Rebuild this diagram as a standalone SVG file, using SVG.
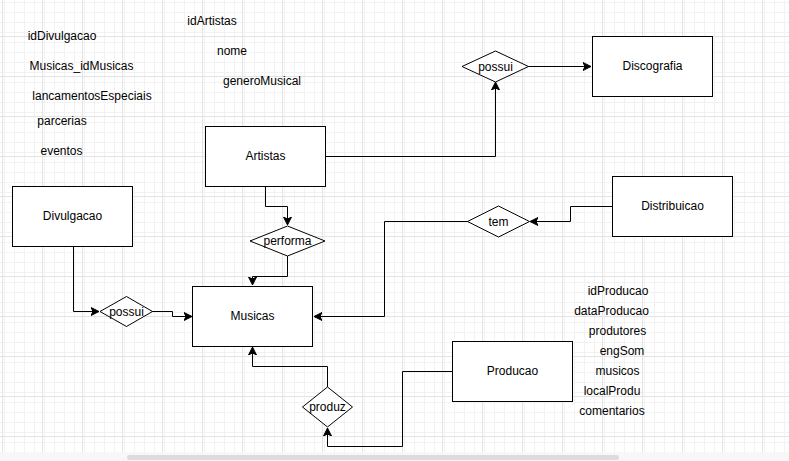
<svg xmlns="http://www.w3.org/2000/svg" width="789" height="461" viewBox="0 0 789 461">
<style>
.node{fill:#ffffff;stroke:#000000;stroke-width:1}
.lbl{font-family:"Liberation Sans",Arial,sans-serif;font-size:12px;fill:#000000;text-anchor:middle}
.edge{fill:none;stroke:#000000;stroke-width:1}
</style>
<defs>
<pattern id="minor" x="2" y="-4" width="10" height="10" patternUnits="userSpaceOnUse">
<path d="M0.5,0 V10 M0,0.5 H10" fill="none" stroke="#f2f2f2" stroke-width="1"/>
</pattern>
<pattern id="major" x="2" y="-4" width="40" height="40" patternUnits="userSpaceOnUse">
<rect width="40" height="40" fill="url(#minor)"/>
<path d="M0.5,0 V40 M0,0.5 H40" fill="none" stroke="#e3e3e3" stroke-width="1"/>
</pattern>
<marker id="arr" markerUnits="userSpaceOnUse" markerWidth="10" markerHeight="10" refX="8" refY="4" orient="auto" viewBox="0 0 10 8">
<path d="M0,0 L8,4 L0,8 L2,4 Z" fill="#000000" stroke="#000000" stroke-width="1"/>
</marker>
</defs>
<rect x="0" y="0" width="789" height="461" fill="#ffffff"/>
<rect x="0" y="0" width="789" height="452" fill="url(#major)"/>
<rect x="0" y="452" width="789" height="9" fill="#f7f7f7"/>
<rect x="127" y="455" width="492" height="5" rx="2.5" fill="#dcdcdc"/>

<g id="attributes">
<text class="lbl" x="62" y="40">idDivulgacao</text>
<text class="lbl" x="81.5" y="70">Musicas_idMusicas</text>
<text class="lbl" x="92" y="100">lancamentosEspeciais</text>
<text class="lbl" x="62" y="125">parcerias</text>
<text class="lbl" x="61.5" y="155">eventos</text>
<text class="lbl" x="212" y="25">idArtistas</text>
<text class="lbl" x="232" y="55">nome</text>
<text class="lbl" x="262" y="85">generoMusical</text>
<text class="lbl" x="618" y="295">idProducao</text>
<text class="lbl" x="611.5" y="315">dataProducao</text>
<text class="lbl" x="617.5" y="335">produtores</text>
<text class="lbl" x="622" y="355">engSom</text>
<text class="lbl" x="617.5" y="375">musicos</text>
<text class="lbl" x="612" y="395">localProdu</text>
<text class="lbl" x="612" y="415">comentarios</text>
</g>

<g id="connectors">
<path class="edge" d="M325,156.5 H495.5 V82" marker-end="url(#arr)"/>
<path class="edge" d="M528,66.5 H591" marker-end="url(#arr)"/>
<path class="edge" d="M612,206.5 H570.5 V221.5 H530" marker-end="url(#arr)"/>
<path class="edge" d="M468,221.5 H384.5 V316.5 H314" marker-end="url(#arr)"/>
<path class="edge" d="M265.5,186 V206.5 H287.5 V225" marker-end="url(#arr)"/>
<path class="edge" d="M287.5,256 V276.5 H252.5 V285" marker-end="url(#arr)"/>
<path class="edge" d="M73.5,246 V311.5 H99" marker-end="url(#arr)"/>
<path class="edge" d="M152,311.5 H172.5 V316.5 H192" marker-end="url(#arr)"/>
<path class="edge" d="M453,371.5 H402.5 V446.5 H327.5 V428" marker-end="url(#arr)"/>
<path class="edge" d="M327.5,387 V366.5 H252.5 V347" marker-end="url(#arr)"/>
</g>

<g id="Artistas">
<rect class="node" x="205.5" y="126.5" width="120" height="60"/>
<text class="lbl" x="265.5" y="160">Artistas</text>
</g>
<g id="Discografia">
<rect class="node" x="592.5" y="36.5" width="120" height="60"/>
<text class="lbl" x="652.5" y="70">Discografia</text>
</g>
<g id="Distribuicao">
<rect class="node" x="612.5" y="176.5" width="120" height="60"/>
<text class="lbl" x="672.5" y="210">Distribuicao</text>
</g>
<g id="Divulgacao">
<rect class="node" x="12.5" y="186.5" width="120" height="60"/>
<text class="lbl" x="72.5" y="220">Divulgacao</text>
</g>
<g id="Musicas">
<rect class="node" x="192.5" y="286.5" width="120" height="60"/>
<text class="lbl" x="252.5" y="320">Musicas</text>
</g>
<g id="Producao">
<rect class="node" x="452.5" y="341.5" width="120" height="60"/>
<text class="lbl" x="512.5" y="375">Producao</text>
</g>

<g id="possui_discografia">
<path class="node" d="M462,66.5 L495.5,51 L528.5,66.5 L495.5,82 Z"/>
<text class="lbl" x="495.5" y="70.5">possui</text>
</g>
<g id="tem">
<path class="node" d="M467.5,221.5 L498.5,206 L529.5,221.5 L498.5,237 Z"/>
<text class="lbl" x="498.5" y="225.5">tem</text>
</g>
<g id="performa">
<path class="node" d="M250,241 L287.5,226 L325,241 L287.5,256 Z"/>
<text class="lbl" x="287.5" y="245">performa</text>
</g>
<g id="possui_divulgacao">
<path class="node" d="M100,311.5 L126.5,296.5 L152.5,311.5 L126.5,326.5 Z"/>
<text class="lbl" x="126.5" y="315.5">possui</text>
</g>
<g id="produz">
<path class="node" d="M302.5,407 L327.5,387 L352.5,407 L327.5,427 Z"/>
<text class="lbl" x="327.5" y="411">produz</text>
</g>
</svg>
